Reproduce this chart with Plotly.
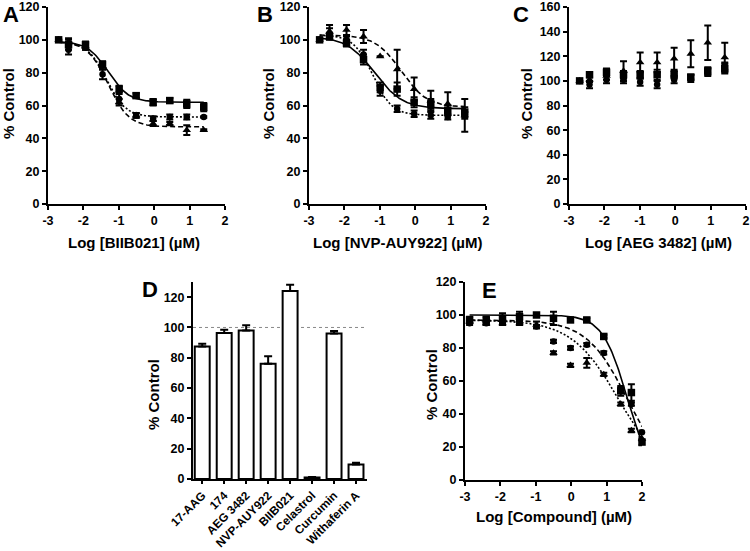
import numpy as np
import plotly.graph_objects as go

# ---------------- data ----------------
X_TICKS = [-3, -2, -1, 0, 1, 2]
X_TICK_TEXT = ["-3", "-2", "-1", "0", "1", "2"]

A_X = [-2.7, -2.42, -1.94, -1.46, -0.99, -0.51, -0.03, 0.44, 0.92, 1.40]
A_SQ = [100, 97, 97, 85, 70, 66, 62, 63, 61, 59]
A_SQ_ERR = [0, 3, 2, 2, 2, 1.5, 2, 1.5, 2.5, 2.5]
A_CI = [100, 94, 96, 79, 64, 54, 52, 53, 53, 53]
A_CI_ERR = [0, 3, 2, 3, 3, 1.5, 1.5, 1.5, 1.5, 0.5]
A_TR = [100, 99, 96, 84, 62, 54, 49, 49, 45, 45]
A_TR_ERR = [0, 2, 2, 2, 2, 1.5, 1.5, 1, 3, 0.5]
# fit params: top, bottom, logIC50, hill
A_FIT_SQ = [99, 62, -1.3, 1.5]
A_FIT_CI = [99, 53, -1.35, 1.6]
A_FIT_TR = [99, 47, -1.3, 1.5]

B_X = [-2.7, -2.42, -1.94, -1.46, -0.99, -0.51, -0.03, 0.44, 0.92, 1.40]
B_SQ = [100, 102, 98, 88, 71, 70, 62, 61, 57, 56]
B_SQ_ERR = [0, 2, 2, 3, 3, 4, 3, 3, 3, 3]
B_CI = [100, 104, 100, 91, 69, 58, 55, 54, 53, 54]
B_CI_ERR = [0, 3, 2, 3, 3, 2, 2, 2, 1.5, 2]
B_TR = [100, 105, 106, 102, 90, 82, 70, 63, 61, 54]
B_TR_ERR = [0, 4, 3, 4, 0, 12, 7, 6, 7, 10]
B_FIT_SQ = [102, 58, -1.15, 1.1]
B_FIT_CI = [103, 54, -1.2, 1.6]
B_FIT_TR = [103, 59, -0.4, 1.2]

C_X = [-2.7, -2.42, -1.94, -1.46, -0.99, -0.51, -0.03, 0.44, 0.92, 1.40]
C_SQ = [100, 105, 107, 105, 105, 105, 105, 103, 108, 110]
C_SQ_ERR = [0, 2, 3, 3, 3, 4, 3, 2, 3, 4]
C_CI = [100, 97, 101, 101, 99, 97, 101, 102, 107, 112]
C_CI_ERR = [0, 3, 3, 3, 3, 3, 3, 3, 3, 3]
C_TR = [100, 101, 104, 108, 115, 115, 118, 122, 131, 119]
C_TR_ERR = [0, 2, 3, 8, 8, 8, 9, 11, 14, 12]

D_CATS = ["17-AAG", "174", "AEG 3482", "NVP-AUY922", "BIIB021", "Celastrol", "Curcumin", "Withaferin A"]
D_VALS = [87.5, 96.3, 98, 76, 124, 1, 96, 9.6]
D_ERR = [1.8, 2.2, 3.4, 5, 4.2, 0.4, 1.7, 1.1]

E_X = [-2.87, -2.4, -1.94, -1.46, -0.98, -0.5, -0.02, 0.44, 0.92, 1.40, 1.70, 2.0]
E_SQ = [97, 97, 98, 99, 100, 98, 97, 97, 87, 54, 53, 23]
E_SQ_ERR = [2, 2, 3, 3, 1, 4, 1, 1, 1, 3, 5, 2]
E_CI = [95, 95, 96, 96, 93, 84, 80, 82, 77, 55, 46, 29]
E_CI_ERR = [1, 1, 1, 1, 1, 1, 1, 1, 1, 1, 1, 1]
E_TR = [96, 95, 95, 95, 94, 77, 69.5, 71, 64, 46, 30, 25]
E_TR_ERR = [1, 1, 1, 1, 2, 1, 1, 3, 1, 1, 1, 1]
E_FIT_SQ = [100, 0, 1.58, 1.25]
E_FIT_CI = [97, 0, 1.6, 0.75]
E_FIT_TR = [97, 0, 1.35, 0.65]

# ---------------- layout helpers ----------------
W, H = 750, 551
FONT = "Liberation Sans"


def fx(px):
    return px / W


def fy(py):
    return 1 - py / H


def logistic(x, p):
    top, bottom, c, h = p
    return bottom + (top - bottom) / (1 + 10 ** ((x - c) * h))


fig = go.Figure()

DASH_DOT = "2px,2px"
DASH_DASH = "5px,3px"


def add_series(i, x, y, err, symbol, size, fit=None, dash="solid"):
    ax = "" if i == 1 else str(i)
    fig.add_trace(go.Scatter(
        x=x, y=y, mode="markers", xaxis="x" + ax, yaxis="y" + ax,
        marker=dict(symbol=symbol, size=size, color="black"),
        error_y=dict(type="data", array=err, visible=True, color="black",
                     thickness=2, width=3.5),
        showlegend=False, hoverinfo="skip", cliponaxis=False))
    if fit is not None:
        xs = np.linspace(min(x), max(x), 200)
        fig.add_trace(go.Scatter(
            x=xs, y=logistic(xs, fit), mode="lines", xaxis="x" + ax, yaxis="y" + ax,
            line=dict(color="black", width=1.6, dash=dash),
            showlegend=False, hoverinfo="skip"))


add_series(1, A_X, A_SQ, A_SQ_ERR, "square", 7.5, A_FIT_SQ, "solid")
add_series(1, A_X, A_CI, A_CI_ERR, "circle", 6.5, A_FIT_CI, DASH_DOT)
add_series(1, A_X, A_TR, A_TR_ERR, "triangle-up", 7.5, A_FIT_TR, DASH_DASH)

add_series(2, B_X, B_SQ, B_SQ_ERR, "square", 7.5, B_FIT_SQ, "solid")
add_series(2, B_X, B_CI, B_CI_ERR, "circle", 6.5, B_FIT_CI, DASH_DOT)
add_series(2, B_X, B_TR, B_TR_ERR, "triangle-up", 7.5, B_FIT_TR, DASH_DASH)

add_series(3, C_X, C_SQ, C_SQ_ERR, "square", 7.5)
add_series(3, C_X, C_CI, C_CI_ERR, "circle", 6.5)
add_series(3, C_X, C_TR, C_TR_ERR, "triangle-up", 7.5)

fig.add_trace(go.Bar(
    x=D_CATS, y=D_VALS, xaxis="x4", yaxis="y4", width=0.68,
    marker=dict(color="white", line=dict(color="black", width=2)),
    error_y=dict(type="data", array=D_ERR, arrayminus=[0] * len(D_ERR), symmetric=False,
                 visible=True, color="black", thickness=2, width=4),
    showlegend=False, hoverinfo="skip"))

add_series(5, E_X, E_SQ, E_SQ_ERR, "square", 7.5, E_FIT_SQ, "solid")
add_series(5, E_X, E_CI, E_CI_ERR, "circle", 6.5, E_FIT_CI, DASH_DASH)
add_series(5, E_X, E_TR, E_TR_ERR, "triangle-up", 7.5, E_FIT_TR, DASH_DOT)

tickfont = dict(family=FONT, size=12.5, color="black", weight="bold")


def axis_common():
    return dict(showline=True, linecolor="black", linewidth=2, ticks="outside",
                ticklen=4, tickwidth=1.5, tickcolor="black", showgrid=False,
                zeroline=False, tickfont=tickfont, fixedrange=True, automargin=False)


panels = {
    1: dict(xp=(48, 225), yp=(7, 204), yr=[0, 120], ytv=[0, 20, 40, 60, 80, 100, 120]),
    2: dict(xp=(309, 486), yp=(7, 204), yr=[0, 120], ytv=[0, 20, 40, 60, 80, 100, 120]),
    3: dict(xp=(569, 746), yp=(7, 204), yr=[0, 160], ytv=[0, 20, 40, 60, 80, 100, 120, 140, 160]),
    5: dict(xp=(465, 642), yp=(282, 480), yr=[0, 120], ytv=[0, 20, 40, 60, 80, 100, 120]),
}

layout = dict(width=W, height=H, margin=dict(l=0, r=0, t=0, b=0, autoexpand=False),
              paper_bgcolor="white", plot_bgcolor="white", showlegend=False)

for i, p in panels.items():
    ax = "" if i == 1 else str(i)
    xa = axis_common()
    xa.update(domain=[fx(p["xp"][0]), fx(p["xp"][1])], range=[-3, 2],
              tickvals=X_TICKS, ticktext=X_TICK_TEXT, anchor="y" + ax)
    ya = axis_common()
    ya.update(domain=[fy(p["yp"][1]), fy(p["yp"][0])], range=p["yr"],
              tickvals=p["ytv"], anchor="x" + ax)
    layout["xaxis" + ax] = xa
    layout["yaxis" + ax] = ya

xa4 = axis_common()
xa4.update(domain=[fx(193), fx(367)], range=[-0.42, 7.5], type="category",
           tickangle=-45, anchor="y4", ticklen=3,
           tickfont=dict(family=FONT, size=11.8, color="black", weight="bold"))
ya4 = axis_common()
ya4.update(domain=[fy(479), fy(282)], range=[0, 130],
           tickvals=[0, 20, 40, 60, 80, 100, 120], anchor="x4")
layout["xaxis4"] = xa4
layout["yaxis4"] = ya4

fig.update_layout(**layout)

fig.add_shape(type="line", xref="x4 domain", yref="y4", x0=0, x1=1, y0=100, y1=100,
              line=dict(color="#888888", width=1, dash="dot"), layer="below")

title_font = dict(family=FONT, size=15, color="black", weight="bold")
letter_font = dict(family=FONT, size=22, color="black", weight="bold")

x_titles = [
    ("Log [BIIB021] (\u00b5M)", 134, 242),
    ("Log [NVP-AUY922] (\u00b5M)", 398, 242),
    ("Log [AEG 3482] (\u00b5M)", 658, 242),
    ("Log [Compound] (\u00b5M)", 554, 516),
]
for t, px, py in x_titles:
    fig.add_annotation(text=t, x=fx(px), y=fy(py), xref="paper", yref="paper",
                       showarrow=False, font=title_font, xanchor="center", yanchor="middle")

y_titles = [(9, 104), (269, 104), (527, 104), (153, 395), (431, 385)]
for px, py in y_titles:
    fig.add_annotation(text="% Control", x=fx(px), y=fy(py), xref="paper", yref="paper",
                       showarrow=False, font=title_font, textangle=-90,
                       xanchor="center", yanchor="middle")

letters = [("A", 11, 14), ("B", 265, 14), ("C", 521, 14), ("D", 150, 289), ("E", 489, 290)]
for t, px, py in letters:
    fig.add_annotation(text=t, x=fx(px), y=fy(py), xref="paper", yref="paper",
                       showarrow=False, font=letter_font, xanchor="center", yanchor="middle")

fig.write_html("out.html", config={"displayModeBar": False},
               post_script="document.body.style.margin='0';document.body.style.padding='0';document.body.style.overflow='hidden';")
